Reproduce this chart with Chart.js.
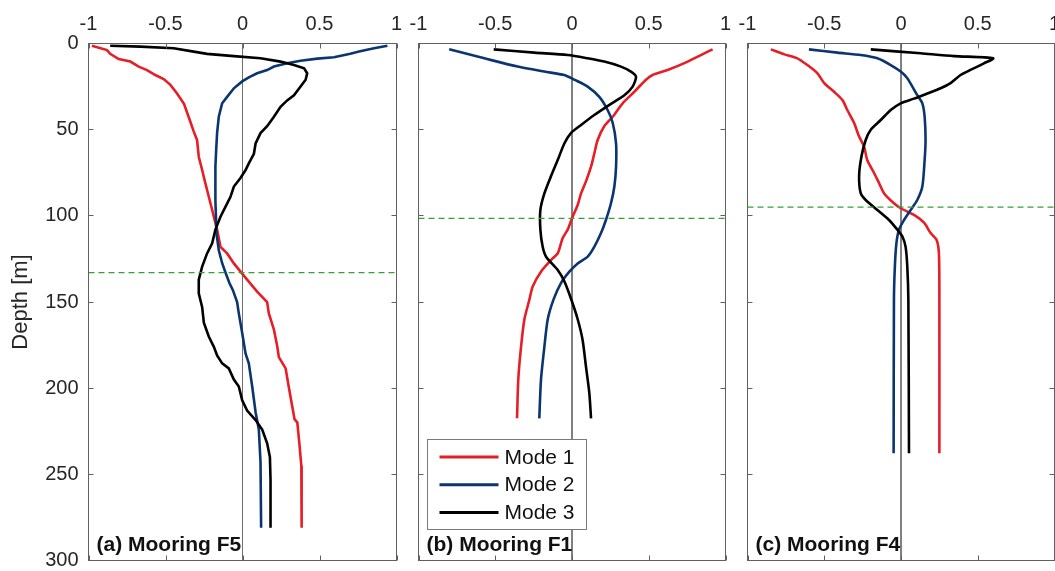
<!DOCTYPE html>
<html>
<head>
<meta charset="utf-8">
<title>Vertical mode structure at moorings F5, F1, F4</title>
<script src="https://cdn.jsdelivr.net/npm/chart.js@4.4.1/dist/chart.umd.min.js"></script>
<style>
  html, body { margin: 0; padding: 0; background: #fff; overflow: hidden; }
  #wrap { position: relative; width: 1055px; height: 571px; overflow: hidden; }
  canvas { position: absolute; top: 0; }
</style>
</head>
<body>
<div id="wrap">
  <canvas id="pF5" width="406" height="571" style="left:0px"></canvas>
  <canvas id="pF1" width="329" height="571" style="left:406px"></canvas>
  <canvas id="pF4" width="330" height="571" style="left:735px"></canvas>
</div>
<script>
// ---- axis ticks ----
const AMP_TICKS = [-1, -0.5, 0, 0.5, 1];
const AMP_TICK_LABELS = ['-1', '-0.5', '0', '0.5', '1'];
const DEPTH_TICKS = [0, 50, 100, 150, 200, 250, 300];
const DEPTH_TICK_LABELS = ['0', '50', '100', '150', '200', '250', '300'];
const DEPTH_TITLE = 'Depth [m]';
const MODE_NAMES = ['Mode 1', 'Mode 2', 'Mode 3'];
const PANEL_TITLES = ['(a) Mooring F5', '(b) Mooring F1', '(c) Mooring F4'];
// mixed-layer depth marked by the dashed line in each panel [m]
const MIXED_LAYER_DEPTH = [133, 101.5, 95];

// ---- normalised mode amplitude vs depth: [amplitude, depth (m)] ----
const F5_MODE1 = [[-0.978,1.3],[-0.88,3.8],[-0.859,6],[-0.804,9],[-0.728,10.5],[-0.674,13.4],[-0.62,15.4],[-0.566,18.3],[-0.512,20.6],[-0.468,24],[-0.425,29],[-0.38,35],[-0.35,42.5],[-0.317,51],[-0.295,56],[-0.284,65.7],[-0.262,73.4],[-0.247,79],[-0.23,85],[-0.208,92.7],[-0.186,100.5],[-0.165,108],[-0.143,118],[-0.1,121.8],[-0.056,127.6],[-0.013,132.4],[0.03,137],[0.095,144],[0.16,150],[0.171,156.6],[0.204,166],[0.226,176],[0.236,182],[0.28,188.5],[0.30,199],[0.323,210.6],[0.338,218],[0.356,220],[0.371,233.8],[0.382,245],[0.384,281]];
const F5_MODE2 = [[0.941,1.3],[0.854,2.8],[0.757,4.7],[0.70,6],[0.594,8],[0.486,8.8],[0.377,10],[0.29,11.5],[0.204,13.4],[0.16,15.4],[0.095,17.3],[0.041,19.6],[-0.002,22],[-0.056,26],[-0.1,31],[-0.132,34.7],[-0.154,42.5],[-0.165,52],[-0.171,62],[-0.176,71.5],[-0.176,91],[-0.169,110],[-0.154,120],[-0.132,127.5],[-0.11,133],[-0.085,139],[-0.063,143],[-0.035,150],[-0.024,156.6],[-0.002,168],[0.02,180],[0.041,185.6],[0.063,199],[0.085,214],[0.106,224],[0.117,243],[0.121,281]];
const F5_MODE3 = [[-0.859,1.3],[-0.663,1.8],[-0.447,2.8],[-0.317,4.7],[-0.23,6],[-0.056,7.3],[0.117,8.6],[0.247,10.5],[0.334,12.5],[0.40,14.4],[0.42,17.3],[0.41,21],[0.377,25],[0.334,30],[0.29,33],[0.247,36.7],[0.204,42.5],[0.16,48],[0.117,52],[0.085,58],[0.074,64],[0.041,69.6],[0.02,73.4],[-0.013,78],[-0.056,83],[-0.078,89],[-0.11,94.7],[-0.143,100.5],[-0.176,108],[-0.197,116],[-0.23,121.8],[-0.262,129.5],[-0.284,137],[-0.284,145],[-0.262,153],[-0.251,162],[-0.219,170],[-0.186,176],[-0.165,181],[-0.132,185.6],[-0.089,188.5],[-0.056,195],[-0.024,199],[-0.002,207],[0.03,213],[0.085,218.5],[0.128,224],[0.16,232],[0.178,240],[0.182,253],[0.182,281]];

const F1_MODE1 = [[0.916,3.4],[0.84,6.7],[0.754,10.5],[0.623,15.4],[0.525,18.3],[0.482,21],[0.406,28],[0.33,34.7],[0.265,42.5],[0.21,48],[0.167,56],[0.145,64],[0.124,71.5],[0.091,80],[0.059,87],[0.037,93.7],[0.004,100.5],[-0.028,108],[-0.061,113],[-0.093,121.8],[-0.126,124.7],[-0.202,132.4],[-0.256,141],[-0.278,148.8],[-0.31,160],[-0.332,176],[-0.35,195],[-0.358,217.5]];
const F1_MODE2 = [[-0.80,3.4],[-0.571,8.6],[-0.354,13.4],[-0.18,16.3],[-0.05,18.3],[0.015,21],[0.102,25],[0.178,31],[0.232,38.6],[0.265,46],[0.287,58],[0.287,71.5],[0.276,83],[0.254,92.7],[0.221,102.4],[0.189,110],[0.145,118],[0.102,123.7],[0.037,127.6],[-0.017,132.4],[-0.072,139],[-0.12,148.5],[-0.158,160],[-0.18,176],[-0.202,195],[-0.213,217.5]];
const F1_MODE3 = [[-0.51,3.4],[-0.245,5.3],[-0.028,6.7],[0.102,8.6],[0.21,10.5],[0.319,13.4],[0.384,16.3],[0.417,19.2],[0.395,25],[0.341,30],[0.254,35],[0.145,41.5],[0.059,47.3],[-0.007,52],[-0.05,58],[-0.093,67.6],[-0.137,77],[-0.18,87],[-0.206,96.6],[-0.206,108],[-0.191,118],[-0.169,123.7],[-0.093,131.4],[-0.05,138],[-0.007,148],[0.037,160],[0.069,172],[0.091,187.5],[0.113,203],[0.124,217.5]];

const F4_MODE1 = [[-0.848,3.4],[-0.76,6.3],[-0.675,8.6],[-0.61,12.5],[-0.544,17.3],[-0.50,23],[-0.436,28],[-0.38,33],[-0.35,38.6],[-0.306,46],[-0.273,54],[-0.24,60],[-0.22,67.6],[-0.176,75],[-0.143,81],[-0.11,87],[-0.046,92.7],[-0.002,95.6],[0.085,99.5],[0.15,104],[0.193,110],[0.232,114],[0.247,121.8],[0.25,149],[0.25,237.8]];
const F4_MODE2 = [[-0.60,3.4],[-0.414,5.3],[-0.262,6.7],[-0.154,8.6],[-0.067,12.5],[-0.002,16.3],[0.04,20],[0.074,25],[0.106,30],[0.139,34.7],[0.154,42.5],[0.16,56],[0.154,67.6],[0.139,83],[0.106,90.8],[0.063,96.6],[0.02,102.4],[-0.013,108],[-0.03,116],[-0.04,129.5],[-0.046,149],[-0.048,237.8]];
const F4_MODE3 = [[-0.197,3.4],[0.128,5.7],[0.345,7.3],[0.60,8.6],[0.54,11.5],[0.43,16.3],[0.388,18.3],[0.323,23],[0.258,26],[0.171,29],[0.085,32],[-0.002,34.7],[-0.067,38.6],[-0.132,44.4],[-0.197,50],[-0.23,56],[-0.258,65.7],[-0.273,77],[-0.262,87],[-0.23,90.8],[-0.154,96.6],[-0.078,102.4],[-0.024,108],[0.009,112],[0.03,118],[0.041,129.5],[0.048,149],[0.052,237.8]];

// ---- styling ----
const FONT = "'Liberation Sans', Arial, Helvetica, sans-serif";
const TEXT = '#262626';
const FRAME = '#606060';
const MODE_COLORS = ['#e61e25', '#0b3570', '#000000'];
const MLD_COLOR = '#35a035';

const toXY = pairs => pairs.map(([a, d]) => ({ x: a, y: d }));

// frame, inward ticks, panel title and (optionally) the legend
const panelDecor = {
  id: 'panelDecor',
  afterDatasetsDraw(chart, args, opts) {
    const { ctx, chartArea: a, scales } = chart;
    const xs = scales.x, ys = scales.y;
    ctx.save();
    ctx.strokeStyle = FRAME;
    ctx.lineWidth = 1;
    ctx.strokeRect(a.left, a.top, a.right - a.left, a.bottom - a.top);
    const tl = 5;
    ctx.beginPath();
    AMP_TICKS.forEach(v => {
      const px = Math.round(xs.getPixelForValue(v)) + 0.5;
      ctx.moveTo(px, a.top); ctx.lineTo(px, a.top + tl);
      ctx.moveTo(px, a.bottom); ctx.lineTo(px, a.bottom - tl);
    });
    DEPTH_TICKS.forEach(v => {
      const py = Math.round(ys.getPixelForValue(v) - 0.5) + 0.5;
      ctx.moveTo(a.left, py); ctx.lineTo(a.left + tl, py);
      ctx.moveTo(a.right, py); ctx.lineTo(a.right - tl, py);
    });
    ctx.stroke();

    // panel title, bottom left
    ctx.fillStyle = '#111';
    ctx.font = 'bold 21px ' + FONT;
    ctx.textAlign = 'left';
    ctx.textBaseline = 'alphabetic';
    ctx.fillText(opts.title, a.left + 8, a.bottom - 10);

    if (opts.legend) {
      const bx = a.left + 9, by = 439.5, bw = 159, bh = 90;
      ctx.fillStyle = '#fff';
      ctx.fillRect(bx, by, bw, bh);
      ctx.strokeStyle = '#7a7a7a';
      ctx.strokeRect(bx, by, bw, bh);
      ctx.font = '21px ' + FONT;
      ctx.textBaseline = 'middle';
      const modes = chart.data.datasets.filter(d => d.isMode);
      modes.forEach((d, i) => {
        const yy = by + 17.5 + i * 27.7;
        ctx.strokeStyle = d.borderColor;
        ctx.lineWidth = 3;
        ctx.beginPath();
        ctx.moveTo(bx + 12, yy); ctx.lineTo(bx + 71, yy);
        ctx.stroke();
        ctx.fillStyle = '#111';
        ctx.fillText(d.label, bx + 77, yy + 1);
      });
    }
    ctx.restore();
  }
};

function buildPanel(canvasId, idx, modes, pad, showDepth, legend) {
  const datasets = [];
  // zero reference line
  datasets.push({
    data: [{ x: 0, y: 0 }, { x: 0, y: 300 }],
    borderColor: '#6f6f6f', borderWidth: 1, order: 10
  });
  modes.forEach((m, i) => {
    datasets.push({
      label: MODE_NAMES[i], isMode: true,
      data: toXY(m), borderColor: MODE_COLORS[i], borderWidth: 2.6,
      tension: idx === 0 ? 0 : 0.25, order: 3 - i
    });
  });
  // mixed-layer depth
  datasets.push({
    data: [{ x: -1, y: MIXED_LAYER_DEPTH[idx] }, { x: 1, y: MIXED_LAYER_DEPTH[idx] }],
    borderColor: MLD_COLOR, borderWidth: 1.2, borderDash: [6, 4], order: 0
  });

  return new Chart(document.getElementById(canvasId), {
    type: 'scatter',
    data: { datasets },
    plugins: [panelDecor],
    options: {
      responsive: false,
      animation: false,
      devicePixelRatio: 1,
      showLine: true,
      elements: { point: { radius: 0, hoverRadius: 0 }, line: { capBezierPoints: true } },
      layout: { padding: pad },
      plugins: {
        legend: { display: false },
        tooltip: { enabled: false },
        panelDecor: { title: PANEL_TITLES[idx], legend }
      },
      scales: {
        x: {
          type: 'linear', position: 'top', min: -1, max: 1,
          grid: { display: false, drawTicks: false },
          border: { display: false },
          afterBuildTicks: s => { s.ticks = AMP_TICKS.map(v => ({ value: v })); },
          afterFit: s => { s.height = 43.5; s.paddingLeft = 0; s.paddingRight = 0; },
          ticks: {
            autoSkip: false, maxRotation: 0, padding: 7, color: TEXT,
            font: { family: FONT, size: 20 },
            callback: (v, i) => AMP_TICK_LABELS[i]
          }
        },
        y: {
          type: 'linear', position: 'left', reverse: true, min: 0, max: 300,
          display: showDepth,
          grid: { display: false, drawTicks: false },
          border: { display: false },
          afterBuildTicks: s => { s.ticks = DEPTH_TICKS.map(v => ({ value: v })); },
          afterFit: s => { if (showDepth) { s.width = 88.5; } s.paddingTop = 0; s.paddingBottom = 0; },
          title: {
            display: showDepth, text: DEPTH_TITLE, color: TEXT,
            font: { family: FONT, size: 22 }, padding: { top: 8, bottom: 0 }
          },
          ticks: {
            autoSkip: false, padding: 10, color: TEXT,
            font: { family: FONT, size: 20 },
            callback: (v, i) => DEPTH_TICK_LABELS[i]
          }
        }
      }
    }
  });
}

buildPanel('pF5', 0, [F5_MODE1, F5_MODE2, F5_MODE3], { left: 0, right: 9.5, top: 0, bottom: 10.5 }, true, false);
buildPanel('pF1', 1, [F1_MODE1, F1_MODE2, F1_MODE3], { left: 12.5, right: 9.5, top: 0, bottom: 10.5 }, false, true);
buildPanel('pF4', 2, [F4_MODE1, F4_MODE2, F4_MODE3], { left: 12.5, right: 10.5, top: 0, bottom: 10.5 }, false, false);
</script>
</body>
</html>
